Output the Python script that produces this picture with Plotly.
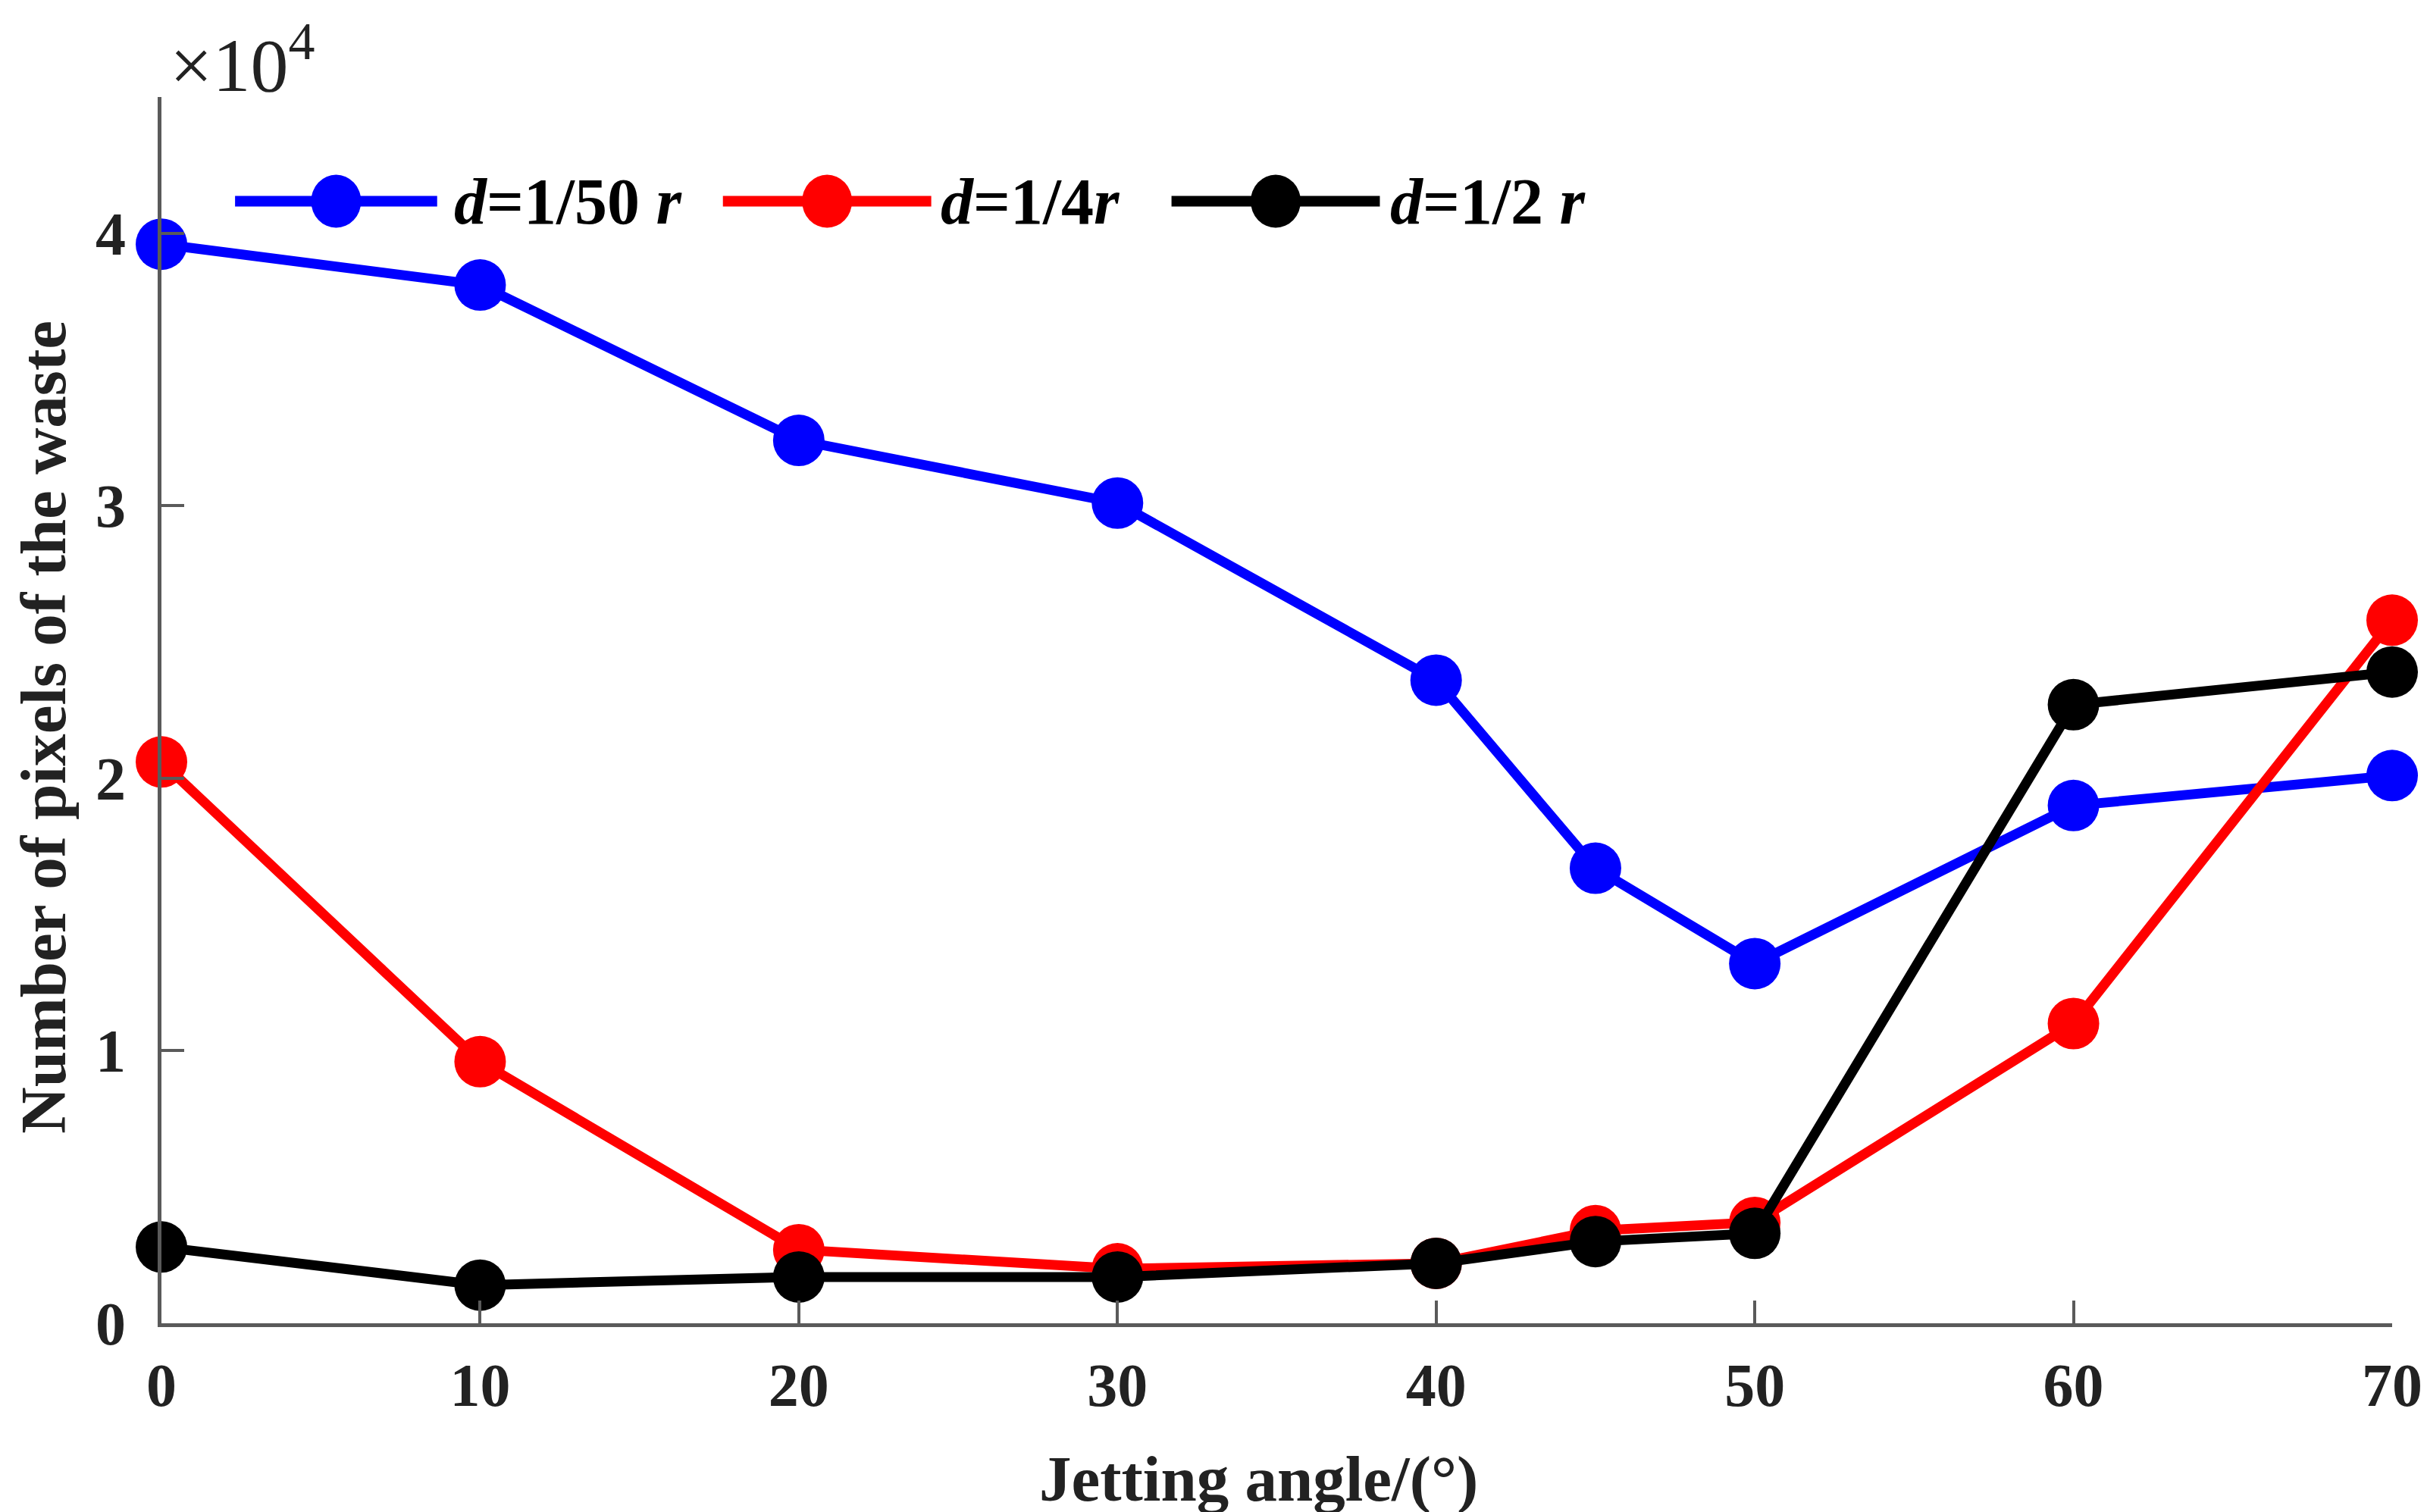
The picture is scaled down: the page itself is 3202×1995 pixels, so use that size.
import plotly.graph_objects as go

# jetting angle (deg) and waste pixel counts, in units of 1e4 pixels
angles = [0, 10, 20, 30, 40, 45, 50, 60, 70]
d_1_50 = [3.96, 3.81, 3.24, 3.01, 2.36, 1.67, 1.32, 1.90, 2.01]
d_1_4 = [2.06, 0.96, 0.27, 0.20, 0.22, 0.34, 0.37, 1.10, 2.58]
d_1_2 = [0.28, 0.14, 0.17, 0.17, 0.22, 0.30, 0.33, 2.27, 2.39]

series_names = ['<i>d</i>=1/50 <i>r</i>', '<i>d</i>=1/4<i>r</i>', '<i>d</i>=1/2 <i>r</i>']
series_colors = ['#0000ff', '#ff0000', '#000000']
x_ticks = [0, 10, 20, 30, 40, 50, 60, 70]
y_ticks = [0, 1, 2, 3, 4]

FONT = 'Liberation Serif'
W, H = 3202, 1995
ML, MR, MT, MB = 205, 54, 120, 257

fig = go.Figure()
for name, vals, col in zip(series_names, [d_1_50, d_1_4, d_1_2], series_colors):
    fig.add_trace(go.Scatter(x=angles, y=vals, mode='lines+markers', name=name,
                             line=dict(color=col, width=13),
                             marker=dict(color=col, size=68),
                             cliponaxis=False, showlegend=False))

# hand-made legend (long line samples like the original)
legend_pos = [(0.033, 0.1236, 0.1304), (0.2517, 0.3451, 0.3485), (0.4528, 0.5462, 0.550)]
leg_y = 0.915
for (x0, x1, xt), name, col in zip(legend_pos, series_names, series_colors):
    fig.add_shape(type='line', xref='paper', yref='paper', x0=x0, x1=x1, y0=leg_y, y1=leg_y,
                  line=dict(color=col, width=14))
    xm = (x0 + x1) / 2
    fig.add_shape(type='circle', xref='paper', yref='paper', xsizemode='pixel', ysizemode='pixel',
                  xanchor=xm, yanchor=leg_y, x0=-33, x1=33, y0=-35, y1=35,
                  fillcolor=col, line=dict(color=col, width=0))
    fig.add_annotation(xref='paper', yref='paper', x=xt, y=leg_y, text='<b>' + name + '</b>',
                       showarrow=False, xanchor='left', yanchor='middle',
                       font=dict(family=FONT, size=86, color='black'))

# axis titles and the exponent label
fig.add_annotation(xref='paper', yref='paper', x=-0.053, y=0.486, textangle=-90,
                   text='<b>Number of pixels of the waste</b>', showarrow=False,
                   xanchor='center', yanchor='middle', font=dict(family=FONT, size=85, color='#222'))
fig.add_annotation(xref='paper', yref='paper', x=0.492, y=-0.127,
                   text='<b>Jetting angle/(°)</b>', showarrow=False,
                   xanchor='center', yanchor='middle', font=dict(family=FONT, size=85, color='#222'))
fig.add_annotation(xref='paper', yref='paper', x=0.003, y=0.99, text='×10<sup>4</sup>',
                   showarrow=False, xanchor='left', yanchor='bottom',
                   font=dict(family=FONT, size=100, color='#222'))

axis_common = dict(showgrid=False, zeroline=False, showline=True, linecolor='#5a5a5a', linewidth=5,
                   ticks='inside', ticklen=30, tickwidth=4, tickcolor='#5a5a5a',
                   tickfont=dict(family=FONT, size=80, color='#222', weight='bold'))
fig.update_xaxes(range=[0, 70], tickvals=x_ticks, ticklabelstandoff=8, **axis_common)
fig.update_yaxes(range=[0, 4.5], tickvals=y_ticks, ticklabelstandoff=26, **axis_common)

fig.update_layout(width=W, height=H, margin=dict(l=ML, r=MR, t=MT, b=MB, autoexpand=False),
                  plot_bgcolor='white', paper_bgcolor='white', showlegend=False)

fig.write_html("out.html")
